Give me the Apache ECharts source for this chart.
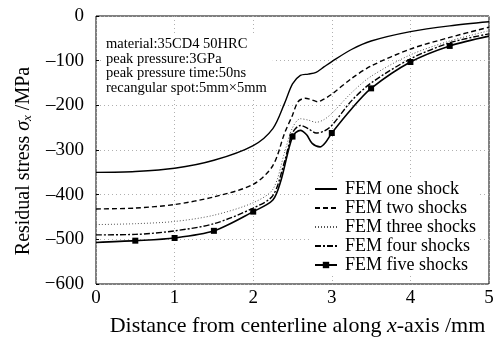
<!DOCTYPE html>
<html>
<head>
<meta charset="utf-8">
<script src="https://cdn.jsdelivr.net/npm/echarts@6/dist/echarts.min.js"></script>
<style>
  html, body { margin: 0; padding: 0; background: #fff; }
  #chart { width: 494px; height: 338px; }
</style>
</head>
<body>
<div id="chart"></div>
<script>
// 曲线数据（横坐标 mm，纵坐标 MPa）
const seriesNames = ['FEM one shock', 'FEM two shocks', 'FEM three shocks', 'FEM four shocks', 'FEM five shocks'];

const oneX = [0, 0.5, 1, 1.5, 2, 2.25, 2.4, 2.5, 2.6, 2.7, 2.8, 2.9, 3, 3.25, 3.5, 4, 4.5, 5];
const oneY = [-350, -348, -341, -323, -290, -252, -195, -152, -133, -130, -126, -114, -102, -75, -56, -35, -22, -13];

const twoX = [0, 0.5, 1, 1.5, 2, 2.25, 2.4, 2.5, 2.57, 2.66, 2.75, 2.82, 2.9, 3, 3.25, 3.5, 4, 4.5, 5];
const twoY = [-432, -430, -422, -405, -377, -335, -262, -222, -192, -184, -188, -192, -186, -175, -140, -112, -74, -48, -25];

const threeX = [0, 0.5, 1, 1.5, 2, 2.25, 2.4, 2.5, 2.6, 2.7, 2.8, 2.9, 3, 3.25, 3.5, 4, 4.5, 5];
const threeY = [-467, -465, -460, -446, -418, -388, -305, -250, -230, -233, -238, -232, -218, -172, -135, -87, -56, -33];

const fourX = [0, 0.5, 1, 1.5, 2, 2.25, 2.4, 2.5, 2.6, 2.7, 2.8, 2.9, 3, 3.25, 3.5, 4, 4.5, 5];
const fourY = [-490, -489, -481, -465, -430, -402, -325, -262, -245, -252, -262, -258, -245, -190, -150, -96, -60, -40];

const fiveX = [0, 0.5, 1, 1.5, 2, 2.25, 2.35, 2.5, 2.6, 2.68, 2.75, 2.85, 2.92, 3, 3.25, 3.5, 4, 4.5, 5];
const fiveY = [-507, -503, -497, -481, -438, -412, -370, -270, -256, -266, -285, -293, -283, -262, -208, -162, -103, -67, -45];
// 带方块标记的点
const fiveMarkX = [0.5, 1, 1.5, 2, 2.5, 3, 3.5, 4, 4.5];

const noteLines = [
  'material:35CD4 50HRC',
  'peak pressure:3GPa',
  'peak pressure time:50ns',
  'recangular spot:5mm×5mm'
];

const serif = '"Liberation Serif", "DejaVu Serif", serif';

function pairs(xs, ys) {
  return xs.map((x, i) => [x, ys[i]]);
}

const fiveData = fiveX.map((x, i) => {
  const marked = fiveMarkX.indexOf(x) >= 0;
  return { value: [x, fiveY[i]], symbol: marked ? 'rect' : 'none' };
});

// 图例：前四条只画线，最后一条带方块
const legendData = seriesNames.map((name, i) => (
  i < 4 ? { name: name, itemStyle: { opacity: 0 } } : { name: name }
));

const chart = echarts.init(document.getElementById('chart'), null, { renderer: 'canvas' });

const lineBase = {
  type: 'line',
  smooth: 0.3,
  showSymbol: false,
  symbol: 'none',
  animation: false,
  color: '#000'
};

chart.setOption({
  backgroundColor: '#fff',
  animation: false,
  grid: {
    left: 96, right: 5, top: 16, bottom: 54,
    outerBoundsMode: 'none',
    show: true, borderColor: '#000', borderWidth: 1, backgroundColor: 'transparent'
  },
  xAxis: {
    type: 'value', min: 0, max: 5, interval: 1,
    axisLine: { show: false },
    axisTick: { show: false },
    splitLine: { show: true, lineStyle: { color: '#b0b0b0', type: [1, 3], width: 1 } },
    axisLabel: { color: '#000', fontFamily: serif, fontSize: 19, margin: 5 },
    name: '{a|Distance from centerline along }{i|x}{n|-axis /mm}',
    nameLocation: 'middle',
    nameGap: 31,
    nameTextStyle: {
      rich: {
        a: { fontFamily: serif, fontSize: 22, color: '#000', padding: [0, 0, 0, 10] },
        n: { fontFamily: serif, fontSize: 22, color: '#000' },
        i: { fontFamily: serif, fontSize: 22, fontStyle: 'italic', color: '#000' }
      }
    }
  },
  yAxis: {
    type: 'value', min: -600, max: 0, interval: 100,
    axisLine: { show: false },
    axisTick: { show: true, inside: true, length: 3, lineStyle: { color: '#000' } },
    splitLine: { show: true, lineStyle: { color: '#b0b0b0', type: [1, 3], width: 1 } },
    axisLabel: {
      color: '#000', fontFamily: serif, fontSize: 19, margin: 12,
      formatter: v => v === -600 ? '\u2212600' : (v < 0 ? '\u2013' + (-v) : String(v))
    },
    name: '{n|Residual stress }{i|σ}{s|x}{e| /MPa}',
    nameLocation: 'middle',
    nameGap: 61,
    nameTextStyle: {
      rich: {
        n: { fontFamily: serif, fontSize: 20, color: '#000' },
        i: { fontFamily: serif, fontSize: 20, fontStyle: 'italic', color: '#000' },
        s: { fontFamily: serif, fontSize: 13, fontStyle: 'italic', color: '#000', verticalAlign: 'bottom', padding: [8, 0, 0, 0] },
        e: { fontFamily: serif, fontSize: 20, color: '#000', padding: [0, 22, 0, 0] }
      }
    }
  },
  legend: {
    orient: 'vertical',
    left: 312, top: 178,
    itemWidth: 22, itemHeight: 8, itemGap: 1,
    backgroundColor: '#fff',
    padding: [2, 4, 2, 2],
    textStyle: { fontFamily: serif, fontSize: 18, color: '#000', padding: [0, 0, 0, 3] },
    data: legendData
  },
  graphic: [{
    type: 'text',
    left: 104, top: 35,
    style: {
      text: noteLines.join('\n'),
      font: '14.5px ' + serif,
      lineHeight: 14.5,
      fill: '#000',
      backgroundColor: '#fff',
      padding: [2, 6, 2, 2]
    },
    z: 10
  }],
  series: [
    Object.assign({}, lineBase, {
      name: seriesNames[0], data: pairs(oneX, oneY),
      lineStyle: { color: '#000', width: 1.4, type: 'solid' }
    }),
    Object.assign({}, lineBase, {
      name: seriesNames[1], data: pairs(twoX, twoY),
      lineStyle: { color: '#000', width: 1.4, type: [5, 3] }
    }),
    Object.assign({}, lineBase, {
      name: seriesNames[2], data: pairs(threeX, threeY),
      lineStyle: { color: '#555', width: 1, type: [1, 2] }
    }),
    Object.assign({}, lineBase, {
      name: seriesNames[3], data: pairs(fourX, fourY),
      lineStyle: { color: '#000', width: 1.4, type: [6, 2, 2, 2] }
    }),
    Object.assign({}, lineBase, {
      name: seriesNames[4], data: fiveData,
      showSymbol: true, showAllSymbol: true,
      symbol: 'rect', symbolSize: 6,
      itemStyle: { color: '#000' },
      lineStyle: { color: '#000', width: 1.6, type: 'solid' }
    })
  ]
});
</script>
</body>
</html>
